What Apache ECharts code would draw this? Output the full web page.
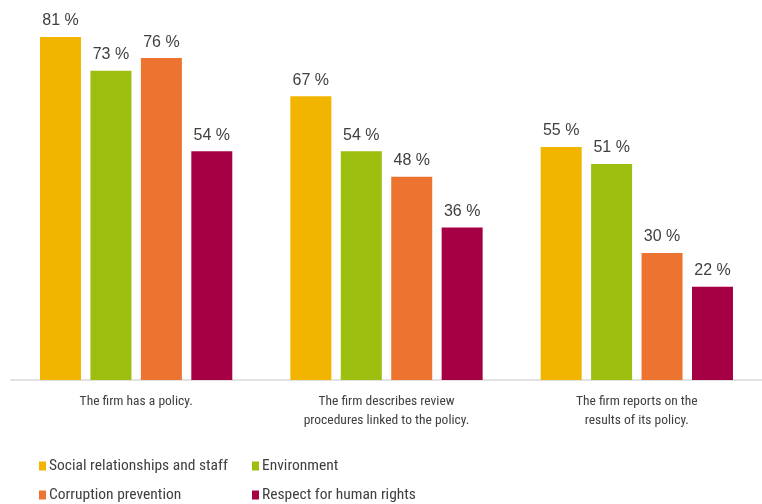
<!DOCTYPE html>
<html>
<head>
<meta charset="utf-8">
<script src="https://cdn.jsdelivr.net/npm/echarts@6/dist/echarts.min.js"></script>
<style>
  html, body { margin: 0; padding: 0; background: #fff; }
  #chart { width: 762px; height: 504px; }
</style>
</head>
<body>
<div id="chart"></div>
<script>
// Share of firms (%) per CSR topic and disclosure level
const categories = [
  'The firm has a policy.',
  'The firm describes review\nprocedures linked to the policy.',
  'The firm reports on the\nresults of its policy.'
];
const seriesNames = [
  'Social relationships and staff',
  'Environment',
  'Corruption prevention',
  'Respect for human rights'
];
const socialStaff = [81, 67, 55];
const environment = [73, 54, 51];
const corruption = [76, 48, 30];
const humanRights = [54, 36, 22];

const colors = ['#F1B500', '#9CBE0E', '#EC7430', '#A60044'];
const values = [socialStaff, environment, corruption, humanRights];
const narrow = "'Roboto Condensed', 'Liberation Sans', sans-serif";

// two-column legend: one legend block per series
const legendPos = [
  { left: 39, top: 458 },
  { left: 252, top: 458 },
  { left: 39, top: 487 },
  { left: 252, top: 487 }
];

const chart = echarts.init(document.getElementById('chart'), null, { renderer: 'canvas' });
chart.setOption({
  animation: false,
  backgroundColor: '#ffffff',
  grid: { left: 11, right: -5, top: 20, bottom: 124 },
  legend: seriesNames.map((name, i) => ({
    data: [name],
    left: legendPos[i].left,
    top: legendPos[i].top,
    icon: 'rect',
    itemWidth: 7,
    itemHeight: 9,
    itemGap: 0,
    padding: 0,
    textStyle: { fontFamily: narrow, fontSize: 15.5, color: '#404040', padding: [0, 0, 0, -2] }
  })),
  xAxis: {
    type: 'category',
    data: categories,
    axisLine: { show: true, lineStyle: { color: '#D9D9D9', width: 1.5 } },
    axisTick: { show: false },
    axisLabel: {
      fontFamily: narrow,
      fontSize: 13.5,
      color: '#404040',
      lineHeight: 19,
      margin: 12,
      interval: 0
    }
  },
  yAxis: {
    type: 'value',
    min: 0,
    max: 85,
    show: false,
    splitLine: { show: false }
  },
  series: seriesNames.map((name, i) => ({
    name: name,
    type: 'bar',
    data: values[i],
    barWidth: 41,
    barGap: '23%',
    itemStyle: { color: colors[i] },
    label: {
      show: true,
      position: 'top',
      distance: 8,
      formatter: '{c} %',
      fontFamily: "'Liberation Sans', Arial, sans-serif",
      fontSize: 16,
      color: '#404040'
    }
  }))
});
</script>
</body>
</html>
